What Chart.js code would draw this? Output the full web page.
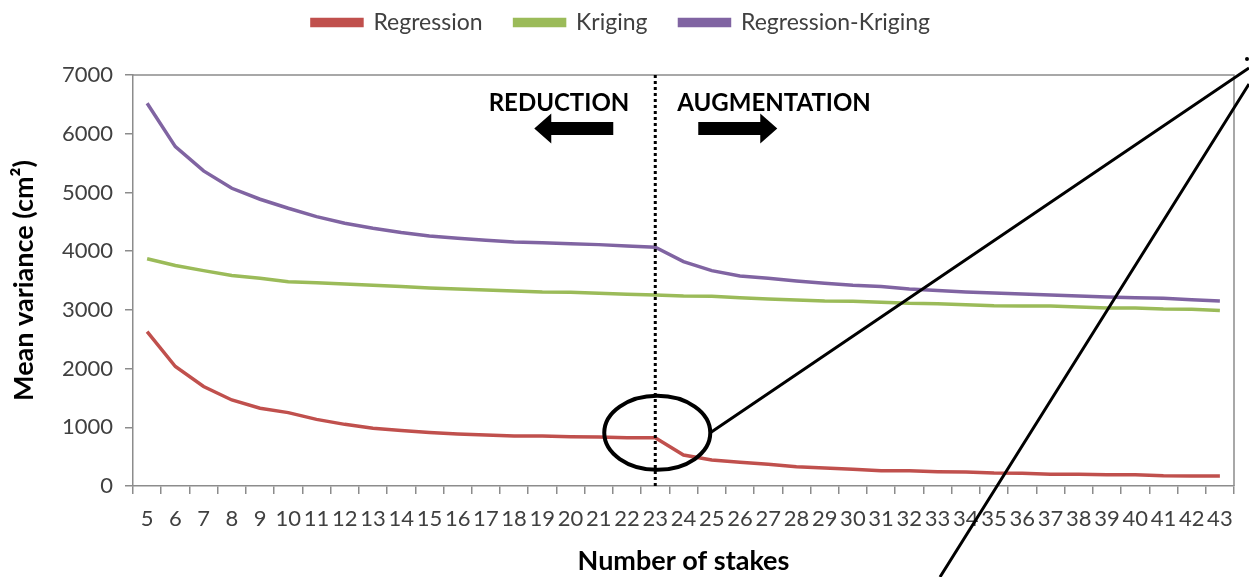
<!doctype html>
<html>

<head>
    <title>Mean variance</title>
    <script src="https://cdn.jsdelivr.net/npm/chart.js"></script>
    <style>
        body { margin: 0; background: #fff; }
        #box { width: 1249px; height: 577px; }
    </style>
</head>

<body>
    <div id="box"><canvas id="grafico"></canvas></div>

    <script>
        // number of stakes
        var stakes = ['5', '6', '7', '8', '9', '10', '11', '12', '13', '14', '15', '16', '17', '18', '19', '20', '21', '22', '23',
            '24', '25', '26', '27', '28', '29', '30', '31', '32', '33', '34', '35', '36', '37', '38', '39', '40', '41', '42', '43'];

        var regression = [2630, 2035, 1695, 1465, 1325, 1250, 1135, 1050, 985, 945, 910, 885, 870, 852, 850, 840, 835, 822, 820,
            528, 443, 403, 369, 329, 307, 284, 261, 258, 244, 239, 221, 216, 199, 199, 193, 193, 176, 172, 170];

        var kriging = [3870, 3755, 3668, 3585, 3540, 3480, 3462, 3440, 3418, 3396, 3373, 3356, 3339, 3322, 3305, 3299, 3282, 3265, 3254,
            3237, 3231, 3208, 3186, 3169, 3152, 3146, 3129, 3112, 3106, 3089, 3072, 3066, 3066, 3049, 3032, 3032, 3015, 3010, 2987];

        var regressionKriging = [6520, 5780, 5366, 5071, 4884, 4730, 4588, 4475, 4390, 4316, 4259, 4219, 4185, 4157, 4145, 4128, 4111, 4089, 4066,
            3822, 3668, 3578, 3538, 3492, 3453, 3419, 3396, 3356, 3328, 3305, 3288, 3271, 3254, 3237, 3220, 3208, 3197, 3174, 3152];

        var yTicks = [0, 1000, 2000, 3000, 4000, 5000, 6000, 7000];
        var splitAt = '23';

        var fonte = 'Lato, "Liberation Sans", sans-serif';

        function seta(ctx, x, y, dir) {
            // x = body start, dir = +1 right, -1 left
            ctx.beginPath();
            ctx.moveTo(x, y - 6.5);
            ctx.lineTo(x + dir * 62, y - 6.5);
            ctx.lineTo(x + dir * 62, y - 15);
            ctx.lineTo(x + dir * 79, y);
            ctx.lineTo(x + dir * 62, y + 15);
            ctx.lineTo(x + dir * 62, y + 6.5);
            ctx.lineTo(x, y + 6.5);
            ctx.closePath();
            ctx.fill();
        }

        // pull the legend up a bit, the plot stays where it is
        var subirLegenda = {
            id: 'subirLegenda',
            afterLayout(chart) {
                chart.legend.top -= 31;
                chart.legend.bottom -= 31;
            }
        };

        var anotacoes = {
            id: 'anotacoes',
            afterDatasetsDraw(chart) {
                var ctx = chart.ctx;
                var area = chart.chartArea;
                var xs = chart.scales.x, ys = chart.scales.y;
                var lx = xs.getPixelForValue(stakes.indexOf(splitAt));
                ctx.save();

                // plot box
                ctx.strokeStyle = '#8c8c8c';
                ctx.lineWidth = 1.5;
                ctx.beginPath();
                ctx.moveTo(area.left, area.top);
                ctx.lineTo(area.right, area.top);
                ctx.lineTo(area.right, area.bottom);
                ctx.stroke();

                // dotted separator
                ctx.strokeStyle = '#000';
                ctx.lineWidth = 3;
                ctx.setLineDash([3, 3]);
                ctx.beginPath();
                ctx.moveTo(lx, area.top);
                ctx.lineTo(lx, area.bottom);
                ctx.stroke();
                ctx.setLineDash([]);

                // labels
                ctx.fillStyle = '#000';
                ctx.font = 'bold 24px ' + fonte;
                ctx.textBaseline = 'middle';
                ctx.textAlign = 'right';
                ctx.fillText('REDUCTION', lx - 26, area.top + 28);
                ctx.textAlign = 'left';
                ctx.fillText('AUGMENTATION', lx + 22, area.top + 28);

                seta(ctx, lx - 42, area.top + 53.5, -1);
                seta(ctx, lx + 43, area.top + 53.5, 1);

                // circle and zoom lines
                var cx = lx + 2;
                var cy = ys.getPixelForValue(regression[stakes.indexOf(splitAt)]) - 5;
                ctx.lineWidth = 4;
                ctx.beginPath();
                ctx.ellipse(cx, cy, 53, 37, 0, 0, Math.PI * 2);
                ctx.stroke();

                var w = chart.width, h = chart.height;
                ctx.lineWidth = 3;
                ctx.beginPath();
                ctx.moveTo(cx + 53, cy);
                ctx.lineTo(w, 68);
                ctx.moveTo(940, h);
                ctx.lineTo(w, 84);
                ctx.stroke();
                ctx.beginPath();
                ctx.arc(w - 2, 59, 2, 0, Math.PI * 2);
                ctx.fill();
                ctx.restore();
            }
        };

        var grafico = new Chart(document.getElementById('grafico').getContext('2d'), {
            type: 'line',
            data: {
                labels: stakes,
                datasets: [{
                    label: 'Regression',
                    borderColor: '#C0504D',
                    backgroundColor: '#C0504D',
                    data: regression
                }, {
                    label: 'Kriging',
                    borderColor: '#9BBB59',
                    backgroundColor: '#9BBB59',
                    data: kriging
                }, {
                    label: 'Regression-Kriging',
                    borderColor: '#8064A2',
                    backgroundColor: '#8064A2',
                    data: regressionKriging
                }]
            },
            options: {
                responsive: true,
                maintainAspectRatio: false,
                animation: false,
                layout: { padding: { left: 8, right: 15, top: 10, bottom: 0 } },
                elements: {
                    point: { radius: 0 },
                    line: { borderWidth: 3.5, tension: 0 }
                },
                plugins: {
                    tooltip: { enabled: false },
                    legend: {
                        position: 'top',
                        labels: {
                            boxWidth: 50,
                            boxHeight: 6,
                            padding: 32,
                            color: '#404040',
                            font: { family: fonte, size: 23 }
                        }
                    }
                },
                scales: {
                    x: {
                        offset: true,
                        afterFit: (scale) => { scale.height = 91; },
                        grid: { offset: true, drawOnChartArea: false, tickLength: 8, color: '#8c8c8c', lineWidth: 1.5 },
                        border: { color: '#8c8c8c', width: 1.5 },
                        ticks: { autoSkip: false, maxRotation: 0, minRotation: 0, color: '#404040', padding: 12, font: { family: fonte, size: 22 } },
                        title: { display: true, text: 'Number of stakes', color: '#000', padding: { top: 4, bottom: 0 }, font: { family: fonte, size: 27, weight: 'bold' } }
                    },
                    y: {
                        min: 0,
                        max: 7000,
                        afterFit: (scale) => { scale.width = 125; },
                        afterBuildTicks: (scale) => { scale.ticks = yTicks.map(v => ({ value: v })); },
                        grid: { drawOnChartArea: false, tickLength: 8, color: '#8c8c8c', lineWidth: 1.5 },
                        border: { color: '#8c8c8c', width: 1.5 },
                        ticks: { color: '#404040', padding: 12, font: { family: fonte, size: 22 }, callback: (v) => String(v) },
                        title: { display: true, text: 'Mean variance (cm²)', color: '#000', padding: { top: 0, bottom: 8 }, font: { family: fonte, size: 27, weight: 'bold' } }
                    }
                }
            },
            plugins: [subirLegenda, anotacoes]
        });
    </script>
</body>

</html>
